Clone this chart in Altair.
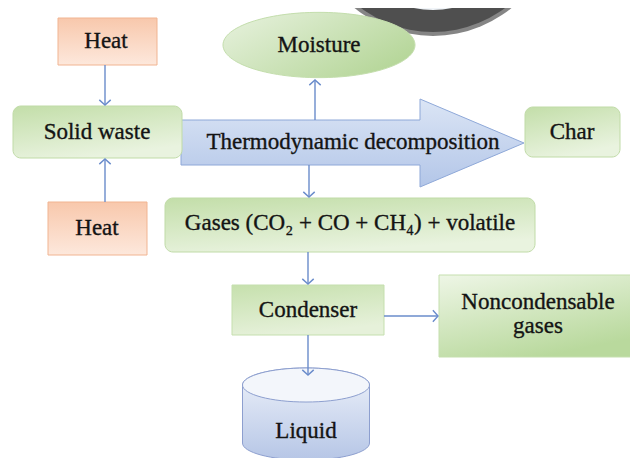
import altair as alt
import pandas as pd

# ---------------- diagram content ----------------
# rectangular nodes (image pixel coordinates)
box_names = ["Heat (top)", "Solid waste", "Heat (bottom)", "Char", "Gases", "Condenser", "Noncondensable gases"]
box_kind = ["heat", "round", "heat", "round", "round", "square", "square_rev"]
box_x1 = [58, 13, 48, 525, 165, 232, 439]
box_x2 = [157, 182, 147, 620, 535, 384, 642]
box_y1 = [18, 106, 202, 107, 198, 285, 275]
box_y2 = [65, 158, 255, 157, 252, 335, 357]

# text labels
label_text = ["Heat", "Solid waste", "Heat", "Moisture", "Thermodynamic decomposition", "Char",
              "Gases (CO\u2082 + CO + CH\u2084) + volatile", "Condenser", "Noncondensable", "gases", "Liquid"]
label_x = [106, 97, 97, 319, 353, 572, 350, 308, 538, 538, 306]
label_y = [41, 132, 228, 45, 142, 132, 223, 310, 302, 326, 431]

# connector arrows
conn_x1 = [105, 105, 315, 309, 308, 384, 308]
conn_y1 = [65, 202, 120, 165, 252, 316, 335]
conn_x2 = [105, 105, 315, 309, 308, 438, 308]
conn_y2 = [105, 159, 80, 197, 284, 316, 375]
head_angle = [0, 180, 180, 0, 0, 270, 0]

# big process arrow outline (x, upper edge, lower edge)
arrow_x = [181, 420, 420.01, 524]
arrow_top = [120, 120, 99, 143]
arrow_bottom = [165, 165, 187, 143]

# ellipse node (Moisture)
ellipse_x = [319]
ellipse_y = [45]

# cylinder node (Liquid)
cyl_x = [306]
cyl_y = [414]
cyl_top_y = [385]

# decorative badge in top-right corner
badge_x = [433]
badge_y = [-88]
badge_radius = [124, 120, 98, 96]
badge_color = ["#858585", "#4f4f4f", "#f0f4f8", "#3f7fc6"]

# ---------------- helpers ----------------
XS = alt.Scale(domain=[8, 630], nice=False, zero=False)
YS = alt.Scale(domain=[8, 458], nice=False, zero=False, reverse=True)


def X(f):
    return alt.X(f, type="quantitative", scale=XS, axis=None)


def Y(f):
    return alt.Y(f, type="quantitative", scale=YS, axis=None)


def lin(c0, c1, x2=0, y2=1):
    return alt.LinearGradient(gradient="linear", x1=0, y1=0, x2=x2, y2=y2,
                              stops=[alt.GradientStop(offset=0, color=c0),
                                     alt.GradientStop(offset=1, color=c1)])


ARROW = "#6a8ccb"
FONT = "Liberation Serif"

boxes = pd.DataFrame({"name": box_names, "kind": box_kind, "x1": box_x1, "x2": box_x2,
                      "y1": box_y1, "y2": box_y2})


def box_layer(kind, fill, stroke, radius):
    return alt.Chart(boxes[boxes.kind == kind]).mark_rect(
        fill=fill, stroke=stroke, strokeWidth=1, cornerRadius=radius, clip=True
    ).encode(x=X("x1"), x2="x2", y=Y("y1"), y2="y2")


heat = box_layer("heat", lin("#f8c8ac", "#fde8dc"), "#f1b491", 0)
rounded = box_layer("round", lin("#c3dea9", "#e9f3df", 0.4, 1), "#c0dba7", 8)
square = box_layer("square", lin("#c6e0ad", "#e6f1da", 0.3, 1), "#c5dfae", 0)
square_rev = box_layer("square_rev", lin("#eef6e6", "#b9d99d", 0.5, 1), "#c5dfae", 0)

arrow_df = pd.DataFrame({"x": arrow_x, "top": arrow_top, "bottom": arrow_bottom})
big_arrow = alt.Chart(arrow_df).mark_area(
    fill=lin("#dbe5f5", "#b3c6e8"), stroke="#8ea8d8", strokeWidth=1, clip=True
).encode(x=X("x"), y=Y("top"), y2="bottom")

ELL = "M -1 0 A 1 0.34 0 1 1 1 0 A 1 0.34 0 1 1 -1 0 Z"
moisture = alt.Chart(pd.DataFrame({"x": ellipse_x, "y": ellipse_y})).mark_point(
    shape=ELL, size=192 ** 2, filled=True, fill=lin("#e8f2df", "#b7d79b", 1, 0.6),
    stroke="#c4dead", strokeWidth=1, opacity=1, clip=True
).encode(x=X("x"), y=Y("y"))

CYL = "M -1 -0.457 L -1 0.457 A 1 0.268 0 0 0 1 0.457 L 1 -0.457 A 1 0.268 0 0 0 -1 -0.457 Z"
cyl_body = alt.Chart(pd.DataFrame({"x": cyl_x, "y": cyl_y})).mark_point(
    shape=CYL, size=127 ** 2, filled=True, fill=lin("#eef2fa", "#b6c6e6"),
    stroke="#8d9fcf", strokeWidth=1, opacity=1, clip=True
).encode(x=X("x"), y=Y("y"))
TOPELL = "M -1 0 A 1 0.268 0 1 1 1 0 A 1 0.268 0 1 1 -1 0 Z"
cyl_top = alt.Chart(pd.DataFrame({"x": cyl_x, "y": cyl_top_y})).mark_point(
    shape=TOPELL, size=127 ** 2, filled=True, fill="#f3f6fb",
    stroke="#8d9fcf", strokeWidth=1, opacity=1, clip=True
).encode(x=X("x"), y=Y("y"))

badge_df = pd.DataFrame({"x": badge_x, "y": badge_y})
badge = [
    alt.Chart(badge_df).mark_arc(
        radius=r, theta=0, theta2=6.2832, fill=c, strokeWidth=0, clip=True
    ).encode(x=X("x"), y=Y("y"))
    for r, c in zip(badge_radius, badge_color)
]

conn_df = pd.DataFrame({"x1": conn_x1, "y1": conn_y1, "x2": conn_x2, "y2": conn_y2, "angle": head_angle})
lines = alt.Chart(conn_df).mark_rule(color=ARROW, strokeWidth=1.4, clip=True).encode(
    x=X("x1"), y=Y("y1"), x2="x2", y2="y2")
heads = alt.Chart(conn_df).mark_point(
    shape="M -1 -0.9 L 0 0 L 1 -0.9", size=130, filled=False, stroke=ARROW, strokeWidth=1.4,
    opacity=1, clip=True
).encode(x=X("x2"), y=Y("y2"), angle=alt.Angle("angle:Q", scale=None))

labels = alt.Chart(pd.DataFrame({"t": label_text, "x": label_x, "y": label_y})).mark_text(
    font=FONT, fontSize=23, color="#141414", stroke="#141414", strokeWidth=0.35,
    align="center", baseline="middle", clip=True
).encode(x=X("x"), y=Y("y"), text="t:N")

chart = alt.layer(
    *badge, big_arrow, heat, rounded, square, square_rev, moisture, cyl_body, cyl_top,
    lines, heads, labels
).properties(
    width=622, height=450, autosize=alt.AutoSizeParams(type="none"), padding=0, background="white"
).configure_view(stroke=None)

chart.save("out.html", embed_options={"renderer": "svg", "actions": False})
